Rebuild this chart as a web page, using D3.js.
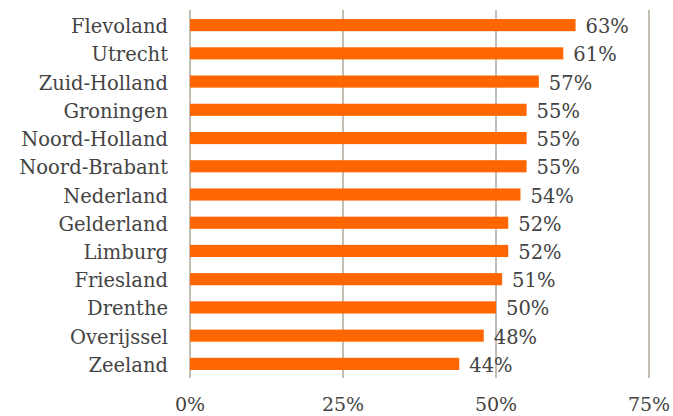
<!DOCTYPE html>
<html><head><meta charset="utf-8">
<script src="https://cdn.jsdelivr.net/npm/d3@7"></script>
<style>body{margin:0;background:#fff}svg{display:block}</style>
</head><body>
<svg id="c" width="673" height="416"></svg>
<script>
const categories = ["Flevoland","Utrecht","Zuid-Holland","Groningen","Noord-Holland","Noord-Brabant","Nederland","Gelderland","Limburg","Friesland","Drenthe","Overijssel","Zeeland"];
const values = [0.63,0.61,0.57,0.55,0.55,0.55,0.54,0.52,0.52,0.51,0.50,0.48,0.44];
const ticks = [0,0.25,0.5,0.75];
const tickLabels = ["0%","25%","50%","75%"];

const svg = d3.select("#c");
const FONT = "DejaVu Serif";
const TXT = "#444";
const FS = 19.5;
const x = d3.scaleLinear().domain([0,0.75]).range([190,649]);
const y = d3.scaleBand().domain(categories).range([11,378]).paddingInner(0.57).paddingOuter(0.285);

svg.append("g").selectAll("line").data(ticks).join("line")
  .attr("x1",d=>x(d)).attr("x2",d=>x(d)).attr("y1",10).attr("y2",378)
  .attr("stroke","#c3bdb3").attr("stroke-width",2);

svg.append("g").selectAll("rect").data(values).join("rect")
  .attr("x",x(0)).attr("y",(d,i)=>y(categories[i]))
  .attr("width",d=>x(d)-x(0)).attr("height",y.bandwidth())
  .attr("fill","#ff6600");

const fmt = d3.format(".0%");
svg.append("g").selectAll("text").data(values).join("text")
  .attr("x",d=>x(d)+10).attr("y",(d,i)=>y(categories[i])+y.bandwidth()/2+8)
  .attr("font-family",FONT).attr("font-size",FS).attr("fill",TXT)
  .text(d=>fmt(d));

svg.append("g").selectAll("text").data(categories).join("text")
  .attr("x",168).attr("y",d=>y(d)+y.bandwidth()/2+8)
  .attr("text-anchor","end")
  .attr("font-family",FONT).attr("font-size",FS).attr("fill",TXT)
  .text(d=>d);

svg.append("g").selectAll("text").data(ticks).join("text")
  .attr("x",d=>x(d)).attr("y",411)
  .attr("text-anchor","middle")
  .attr("font-family",FONT).attr("font-size",19).attr("fill",TXT)
  .text((d,i)=>tickLabels[i]);
</script>
</body></html>
